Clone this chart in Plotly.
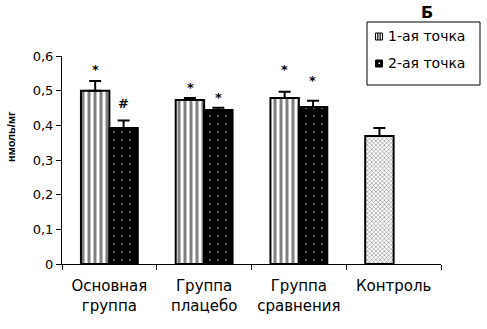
import plotly.graph_objects as go

categories = ["Основная<br>группа", "Группа<br>плацебо", "Группа<br>сравнения", "Контроль"]
series1_name = "1-ая точка"
series2_name = "2-ая точка"
series1 = [0.50, 0.473, 0.479, 0.369]
series1_err = [0.028, 0.006, 0.018, 0.023]
series2 = [0.392, 0.444, 0.453, None]
series2_err = [0.022, 0.007, 0.018, 0]
marks1 = ["*", "*", "*", ""]
marks1_y = [0.562, 0.51, 0.56, None]
marks2 = ["#", "*", "*", ""]
marks2_y = [0.462, 0.48, 0.53, None]
y_ticks = [0, 0.1, 0.2, 0.3, 0.4, 0.5, 0.6]
y_ticktext = ["0", "0,1", "0,2", "0,3", "0,4", "0,5", "0,6"]
y_title = "нмоль/мг"
panel_label = "Б"

font = "DejaVu Sans, sans-serif"
arial = "Liberation Sans, Arial, sans-serif"

# plot area in pixels
L, T, W, H = 62, 56, 379, 208


def px(x):
    return (x - L) / W


def py(y):
    return (T + H - y) / H


fig = go.Figure()
fig.add_trace(go.Bar(
    x=categories, y=series1, name=series1_name, showlegend=False,
    marker=dict(color="white", line=dict(color="black", width=2),
                pattern=dict(shape=["|", "|", "|", "x"], size=[6, 6, 6, 3],
                             solidity=[0.5, 0.5, 0.5, 0.35],
                             fgcolor="black", bgcolor="white", fillmode="overlay")),
    error_y=dict(type="data", array=series1_err, arrayminus=[0]*4, symmetric=False,
                 color="black", thickness=2, width=6),
))
fig.add_trace(go.Bar(
    x=categories, y=series2, name=series2_name, showlegend=False,
    marker=dict(color="black", line=dict(color="black", width=2),
                pattern=dict(shape=".", size=8, solidity=0.05,
                             fgcolor="white", bgcolor="black", fillmode="overlay")),
    error_y=dict(type="data", array=series2_err, arrayminus=[0]*4, symmetric=False,
                 color="black", thickness=2, width=6),
))

anns = []
for c, t, yv in zip(categories, marks1, marks1_y):
    if t:
        anns.append(dict(x=c, y=yv, text="<b>" + t + "</b>", showarrow=False, xshift=-14,
                         font=dict(size=13, color="black", family=font)))
for c, t, yv in zip(categories, marks2, marks2_y):
    if t:
        anns.append(dict(x=c, y=yv, text="<b>" + t + "</b>", showarrow=False, xshift=14,
                         font=dict(size=13, color="black", family=font)))
# panel label
anns.append(dict(x=px(427), y=py(12), xref="paper", yref="paper",
                 xanchor="center", yanchor="middle", text="<b>" + panel_label + "</b>",
                 showarrow=False, font=dict(size=16, color="black", family=font)))
# y-axis title
anns.append(dict(x=px(11), y=py(136), xref="paper", yref="paper",
                 xanchor="center", yanchor="middle", text="<b>" + y_title + "</b>",
                 textangle=-90, showarrow=False,
                 font=dict(size=11, color="black", family=arial)))
# custom legend texts
for name, yy in [(series1_name, 36), (series2_name, 63)]:
    anns.append(dict(x=px(386), y=py(yy), xref="paper", yref="paper",
                     xanchor="left", yanchor="middle", text=name, showarrow=False,
                     font=dict(size=14, color="black", family=font)))

shapes = [
    # legend frame
    dict(type="rect", xref="paper", yref="paper", x0=px(367), x1=px(480), y0=py(85), y1=py(22),
         line=dict(color="black", width=1), fillcolor="white", layer="above"),
    # icon 1 (striped)
    dict(type="rect", xref="paper", yref="paper", x0=px(375.5), x1=px(382.5), y0=py(40), y1=py(33),
         line=dict(color="black", width=1), fillcolor="white", layer="above"),
    dict(type="line", xref="paper", yref="paper", x0=px(377.8), x1=px(377.8), y0=py(40), y1=py(33),
         line=dict(color="black", width=1.2), layer="above"),
    dict(type="line", xref="paper", yref="paper", x0=px(380.2), x1=px(380.2), y0=py(40), y1=py(33),
         line=dict(color="black", width=1.2), layer="above"),
    # icon 2 (black with dot)
    dict(type="rect", xref="paper", yref="paper", x0=px(375.5), x1=px(382.5), y0=py(67), y1=py(60),
         line=dict(color="black", width=1), fillcolor="black", layer="above"),
    dict(type="rect", xref="paper", yref="paper", x0=px(378.5), x1=px(380), y0=py(64), y1=py(62.5),
         line=dict(color="white", width=0), fillcolor="white", layer="above"),
]

fig.update_layout(
    width=487, height=329,
    margin=dict(l=L, r=487 - L - W, t=T, b=329 - T - H, autoexpand=False),
    paper_bgcolor="white", plot_bgcolor="white",
    barmode="group", bargap=0.4, bargroupgap=0,
    font=dict(family=font, size=14, color="black"),
    showlegend=False,
    annotations=anns,
    shapes=shapes,
    xaxis=dict(showline=True, linecolor="black", linewidth=1, ticks="outside",
               tickson="boundaries", ticklen=5, tickcolor="black", ticklabelstandoff=8,
               tickfont=dict(size=15, family=font), showgrid=False),
    yaxis=dict(range=[0, 0.6], showline=True, linecolor="black", linewidth=1,
               ticks="outside", ticklen=5, tickcolor="black",
               tickvals=y_ticks, ticktext=y_ticktext, showgrid=False, zeroline=False,
               tickfont=dict(size=13, family=font)),
)

fig.write_html("out.html", config={"displayModeBar": False},
               post_script="document.body.style.margin='0';")
